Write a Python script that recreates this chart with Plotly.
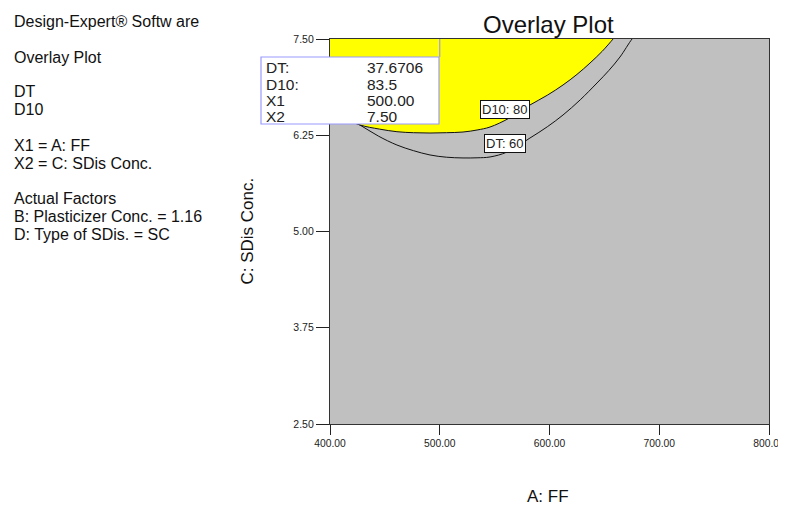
import plotly.graph_objects as go

# ---- data ----
x_range = [400, 800]
y_range = [2.5, 7.5]
x_ticks = [400, 500, 600, 700, 800]
y_ticks = [2.50, 3.75, 5.00, 6.25, 7.50]

# D10 = 80 contour (boundary of yellow feasible region)
d10_x = [400.0, 409.1, 427.3, 445.0, 461.0, 476.0, 491.1, 506.0, 521.2, 534.0, 545.8, 563.0, 582.2, 598.0, 612.3, 625.0, 636.9, 648.0, 657.9, 662.0]
d10_y = [6.54, 6.487, 6.383, 6.33, 6.296, 6.283, 6.279, 6.283, 6.292, 6.318, 6.357, 6.47, 6.643, 6.77, 6.903, 7.04, 7.188, 7.34, 7.50, 7.57]

# DT = 60 contour
dt_x = [405.0, 413.7, 427.3, 444.0, 461.0, 476.0, 491.1, 506.0, 521.2, 534.0, 545.8, 561.3, 582.2, 598.0, 612.3, 628.0, 643.3, 654.0, 664.2, 675.2, 679.0]
dt_y = [6.56, 6.487, 6.383, 6.24, 6.123, 6.05, 5.994, 5.965, 5.955, 5.957, 5.968, 6.032, 6.214, 6.36, 6.513, 6.71, 6.929, 7.09, 7.266, 7.50, 7.56]

contour_labels = ["D10: 80", "DT: 60"]
contour_label_x = [559.0, 559.0]
contour_label_y = [6.584, 6.149]

flag_names = ["DT:", "D10:", "X1", "X2"]
flag_values = ["37.6706", "83.5", "500.00", "7.50"]
flag_point = (500.0, 7.50)

side_lines = [
    "Design-Expert® Softw are",
    "Overlay Plot",
    "DT",
    "D10",
    "X1 = A: FF",
    "X2 = C: SDis Conc.",
    "Actual Factors",
    "B: Plasticizer Conc. = 1.16",
    "D: Type of SDis. = SC",
]

title_text = "Overlay Plot"
x_title = "A: FF"
y_title = "C: SDis Conc."

# ---- layout geometry (screen pixels; page body adds an 8px offset) ----
OFF = 8
W, H = 786, 505
L, R, T, B = 330 - OFF, 17 + OFF, 39 - OFF, 81 + OFF
PW, PH = W - L - R, H - T - B
FONT = "Liberation Sans, Arial, sans-serif"


def px_x(px):
    return (px - OFF - L) / PW


def px_y(py):
    return (H - B - (py - OFF)) / PH


fig = go.Figure()

# invisible top boundary for the fill
fig.add_trace(go.Scatter(x=[395, 700], y=[7.62, 7.62], mode="lines",
                         line=dict(width=0, color="rgba(0,0,0,0)"),
                         hoverinfo="skip", showlegend=False))
# D10 contour with yellow region above
fig.add_trace(go.Scatter(x=d10_x, y=d10_y, mode="lines", fill="tonexty",
                         fillcolor="#FFFF00",
                         line=dict(color="#111111", width=1, shape="spline"),
                         showlegend=False, name="D10"))
# DT contour
fig.add_trace(go.Scatter(x=dt_x, y=dt_y, mode="lines",
                         line=dict(color="#111111", width=1, shape="spline"),
                         showlegend=False, name="DT"))

shapes = []
# flag box
box_l, box_r, box_t, box_b = 261, 439, 57, 124
shapes.append(dict(type="rect", xref="paper", yref="paper",
                   x0=px_x(box_l), x1=px_x(box_r), y0=px_y(box_b), y1=px_y(box_t),
                   fillcolor="white", line=dict(color="#9a9aff", width=1.2), layer="above"))
shapes.append(dict(type="line", xref="x", yref="paper",
                   x0=flag_point[0], x1=flag_point[0], y0=px_y(box_t), y1=1.0,
                   line=dict(color="#9a9aff", width=1.2), layer="above"))

annotations = []
# contour labels
for txt, lx, ly in zip(contour_labels, contour_label_x, contour_label_y):
    annotations.append(dict(x=lx, y=ly, xref="x", yref="y", text=txt, showarrow=False,
                            font=dict(family=FONT, size=13, color="#222222"),
                            bgcolor="white", bordercolor="#111111", borderwidth=1,
                            borderpad=1))

# flag box text
flag_rows = [67, 84, 100, 116.5]
for name, val, py in zip(flag_names, flag_values, flag_rows):
    annotations.append(dict(x=px_x(264), y=px_y(py), xref="paper", yref="paper",
                            text=name, showarrow=False, xanchor="left", yanchor="middle",
                            font=dict(family=FONT, size=15.5, color="#222222")))
    annotations.append(dict(x=px_x(365), y=px_y(py), xref="paper", yref="paper",
                            text=val, showarrow=False, xanchor="left", yanchor="middle",
                            font=dict(family=FONT, size=15.5, color="#222222")))

# side text
side_rows = [21.7, 57.5, 91.7, 109.7, 145.8, 163.3, 198.3, 216.3, 234.3]
for txt, py in zip(side_lines, side_rows):
    annotations.append(dict(x=px_x(12), y=px_y(py), xref="paper", yref="paper",
                            text=txt, showarrow=False, xanchor="left", yanchor="middle",
                            font=dict(family=FONT, size=16, color="#111111")))

# title and axis titles
annotations.append(dict(x=px_x(548), y=px_y(25), xref="paper", yref="paper",
                        text=title_text, showarrow=False, xanchor="center", yanchor="middle",
                        font=dict(family=FONT, size=24, color="#111111")))
annotations.append(dict(x=px_x(548), y=px_y(496), xref="paper", yref="paper",
                        text=x_title, showarrow=False, xanchor="center", yanchor="middle",
                        font=dict(family=FONT, size=17, color="#111111")))
annotations.append(dict(x=px_x(246.5), y=px_y(231), xref="paper", yref="paper",
                        text=y_title, showarrow=False, xanchor="center", yanchor="middle",
                        textangle=-90,
                        font=dict(family=FONT, size=17, color="#111111")))

fig.update_layout(
    width=W, height=H, autosize=False,
    margin=dict(l=L, r=R, t=T, b=B, pad=0, autoexpand=False),
    paper_bgcolor="white", plot_bgcolor="#C0C0C0",
    showlegend=False,
    shapes=shapes, annotations=annotations,
    font=dict(family=FONT),
)
fig.update_xaxes(range=x_range, tickvals=x_ticks,
                 ticktext=[f"{v:.2f}" for v in x_ticks],
                 showgrid=False, zeroline=False, automargin=False,
                 showline=True, linecolor="#333333", linewidth=1.2, mirror=True,
                 ticks="outside", ticklen=10, tickcolor="#222222", tickwidth=1,
                 tickfont=dict(family=FONT, size=10.3, color="#222222"))
fig.update_yaxes(range=y_range, tickvals=y_ticks,
                 ticktext=[f"{v:.2f}" for v in y_ticks],
                 showgrid=False, zeroline=False, automargin=False,
                 showline=True, linecolor="#333333", linewidth=1.2, mirror=True,
                 ticks="outside", ticklen=13, tickcolor="#222222", tickwidth=1,
                 tickfont=dict(family=FONT, size=10.5, color="#222222"))

fig.write_html("out.html")
